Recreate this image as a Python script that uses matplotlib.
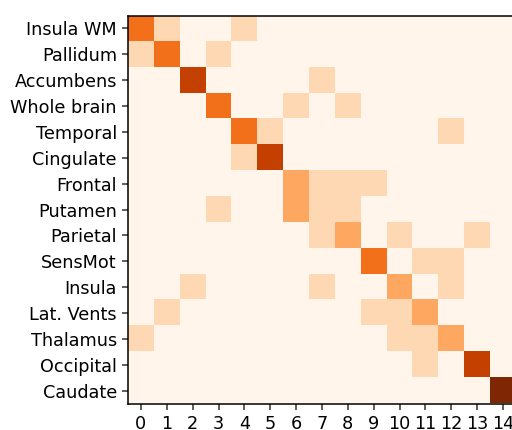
import numpy as np
import matplotlib
matplotlib.use('Agg')
import matplotlib.pyplot as plt

regioes = ['Insula WM', 'Pallidum', 'Accumbens', 'Whole brain', 'Temporal',
           'Cingulate', 'Frontal', 'Putamen', 'Parietal', 'SensMot',
           'Insula', 'Lat. Vents', 'Thalamus', 'Occipital', 'Caudate']

# contagens por linha: {coluna: valor}
linhas = [
    {0: 3, 1: 1, 4: 1},
    {0: 1, 1: 3, 3: 1},
    {2: 4, 7: 1},
    {3: 3, 6: 1, 8: 1},
    {4: 3, 5: 1, 12: 1},
    {4: 1, 5: 4},
    {6: 2, 7: 1, 8: 1, 9: 1},
    {3: 1, 6: 2, 7: 1, 8: 1},
    {7: 1, 8: 2, 10: 1, 13: 1},
    {9: 3, 11: 1, 12: 1},
    {2: 1, 7: 1, 10: 2, 12: 1},
    {1: 1, 9: 1, 10: 1, 11: 2},
    {0: 1, 10: 1, 11: 1, 12: 2},
    {11: 1, 13: 4},
    {14: 5},
]

n = len(regioes)
matriz = np.zeros((n, n))
for i, linha in enumerate(linhas):
    for j, v in linha.items():
        matriz[i, j] = v

plt.rcParams['font.size'] = 12.7
fig = plt.figure(figsize=(5.12, 4.30), dpi=100)
ax = fig.add_axes([128 / 512, 26.5 / 430, 388 / 512, 388 / 430])
ax.imshow(matriz, cmap='Oranges', vmin=0, vmax=5)
ax.set_xticks(range(n))
ax.set_yticks(range(n))
ax.set_yticklabels(regioes)
ax.tick_params(length=4.5, width=1.1, color='#333333')
for lado in ax.spines.values():
    lado.set_linewidth(1.1)
fig.savefig('out.png', dpi=100)
